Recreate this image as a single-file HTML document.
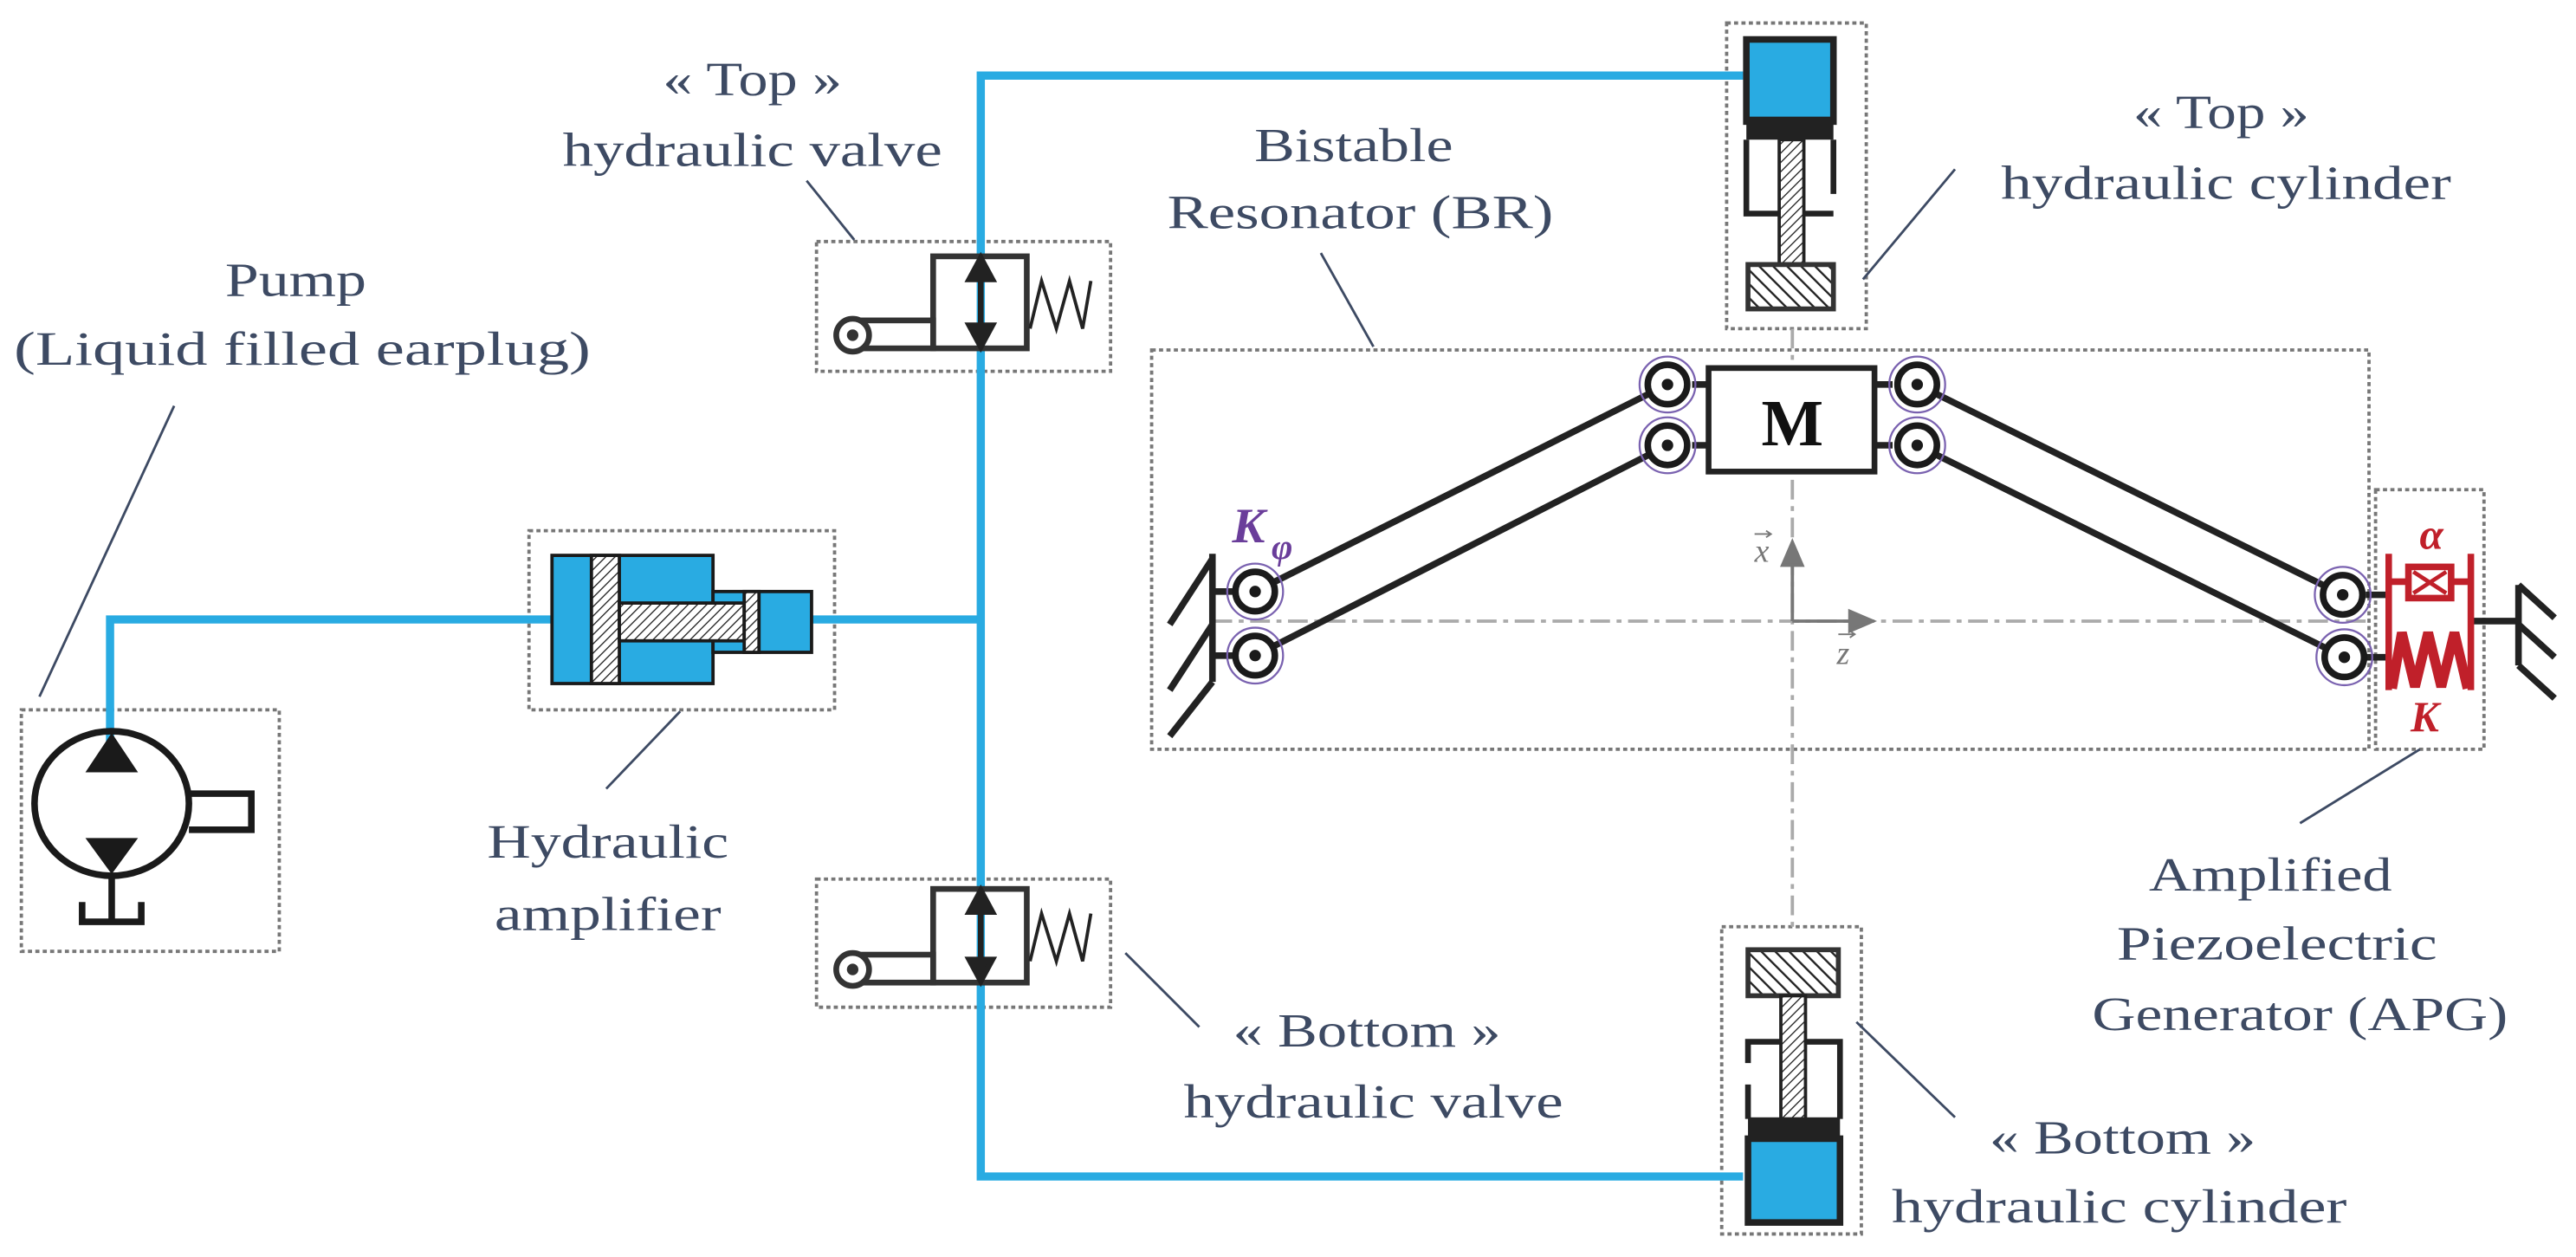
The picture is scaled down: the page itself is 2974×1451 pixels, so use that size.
<!DOCTYPE html>
<html><head><meta charset="utf-8"><style>
html,body{margin:0;padding:0;background:#fff;}
svg{display:block;}
text{font-family:"Liberation Serif",serif;fill:#3d4a63;}
</style></head><body>
<svg width="2974" height="1451" viewBox="0 0 1568 765" preserveAspectRatio="none" xmlns="http://www.w3.org/2000/svg">
<defs>
<pattern id="h" width="4" height="4" patternUnits="userSpaceOnUse" patternTransform="rotate(45)">
<rect width="4" height="4" fill="#fff"/><line x1="0" y1="0" x2="0" y2="4" stroke="#222" stroke-width="1.4"/>
</pattern>
<pattern id="h2" width="6" height="6" patternUnits="userSpaceOnUse" patternTransform="rotate(-45)">
<rect width="6" height="6" fill="#fff"/><line x1="0" y1="0" x2="0" y2="6" stroke="#222" stroke-width="2.5"/>
</pattern>
<g id="piv">
<circle r="17" fill="none" stroke="#7a62b0" stroke-width="1.2"/>
<circle r="12" fill="#fff" stroke="#1a1a1a" stroke-width="4"/>
<circle r="3.5" fill="#1a1a1a"/>
</g>
</defs>
<g fill="none" stroke="#777" stroke-width="2" stroke-dasharray="2.5 2">
<rect x="13" y="432" width="157" height="147"/>
<rect x="322" y="323" width="186" height="109"/>
<rect x="497" y="147" width="179" height="79"/>
<rect x="497" y="535" width="179" height="78"/>
<rect x="1051" y="14" width="85" height="186"/>
<rect x="1048" y="564" width="85" height="187"/>
<rect x="701" y="213" width="741" height="243"/>
<rect x="1446" y="298" width="66" height="158"/>
</g>
<g stroke="#aaa" stroke-width="2" stroke-dasharray="12 4 3 4" fill="none">
<line x1="738" y1="378" x2="1442" y2="378"/>
<line x1="1091" y1="200" x2="1091" y2="566"/>
</g>
<g stroke="#777" stroke-width="2" fill="#777">
<line x1="1091" y1="378" x2="1091" y2="342"/><polygon points="1085,344 1097,344 1091,330"/>
<line x1="1091" y1="378" x2="1128" y2="378"/><polygon points="1126,372 1126,384 1140,378"/>
</g>
<text x="1068" y="342" font-size="20" font-style="italic" style="fill:#777">x</text>
<path d="M1068,325 h10 m-3,-2 l3,2 l-3,2" stroke="#777" stroke-width="1" fill="none"/>
<text x="1118" y="404" font-size="20" font-style="italic" style="fill:#777">z</text>
<path d="M1119,386 h10 m-3,-2 l3,2 l-3,2" stroke="#777" stroke-width="1" fill="none"/>
<g stroke="#29abe2" stroke-width="5" fill="none">
<polyline points="67,470 67,377 336,377"/>
<line x1="494" y1="377" x2="597" y2="377"/>
<polyline points="1061,46 597,46 597,716 1061,716"/>
</g>
<g stroke="#1a1a1a" stroke-width="4" fill="none">
<ellipse cx="68" cy="489" rx="47" ry="44"/>
<polyline points="115,483 153,483 153,505 115,505"/>
<line x1="68" y1="532" x2="68" y2="561"/>
<polyline points="50,549 50,561 86,561 86,549"/>
</g>
<polygon points="68,446 52,470 84,470" fill="#1a1a1a"/>
<polygon points="52,510 84,510 68,532" fill="#1a1a1a"/>
<g stroke="#1a1a1a" stroke-width="2">
<rect x="336" y="338" width="98" height="78" fill="#29abe2"/>
<rect x="434" y="360" width="60" height="37" fill="#29abe2"/>
<rect x="360" y="338" width="17" height="78" fill="url(#h)"/>
<rect x="377" y="367" width="76" height="23" fill="url(#h)"/>
<rect x="453" y="360" width="9" height="37" fill="url(#h)"/>
</g>
<g stroke="#333" stroke-width="3.5" fill="none">
<rect x="568" y="156" width="57" height="56"/>
<rect x="519" y="195" width="49" height="17"/>
<circle cx="519" cy="204" r="10" fill="#fff"/>
<rect x="568" y="541" width="57" height="57"/>
<rect x="519" y="581" width="49" height="17"/>
<circle cx="519" cy="590" r="10" fill="#fff"/>
</g>
<circle cx="519" cy="204" r="3.5" fill="#333"/><circle cx="519" cy="590" r="3.5" fill="#333"/>
<g stroke="#222" stroke-width="2" fill="none">
<polyline points="627,200 634,171 643,200 651,171 659,200 664,171"/>
<polyline points="627,585 634,556 643,585 651,556 659,585 664,556"/>
</g>
<g stroke="#222" stroke-width="3.5" fill="#222">
<line x1="597" y1="166" x2="597" y2="202"/>
<polygon points="590,170 604,170 597,157"/><polygon points="590,198 604,198 597,211"/>
<line x1="597" y1="551" x2="597" y2="588"/>
<polygon points="590,555 604,555 597,542"/><polygon points="590,584 604,584 597,597"/>
</g>
<rect x="1063" y="24" width="53" height="50" fill="#29abe2" stroke="#222" stroke-width="4"/>
<rect x="1063" y="71" width="53" height="14" fill="#222"/>
<g stroke="#222" stroke-width="3.5" fill="none">
<polyline points="1063,85 1063,130 1084,130"/>
<polyline points="1116,85 1116,118"/><line x1="1098" y1="130" x2="1116" y2="130"/>
</g>
<rect x="1083" y="85" width="15" height="76" fill="url(#h)" stroke="#222" stroke-width="2"/>
<rect x="1064" y="161" width="52" height="27" fill="url(#h2)" stroke="#333" stroke-width="3"/>
<rect x="1064" y="578" width="55" height="28" fill="url(#h2)" stroke="#333" stroke-width="3"/>
<rect x="1084" y="606" width="15" height="75" fill="url(#h)" stroke="#222" stroke-width="2"/>
<g stroke="#222" stroke-width="3.5" fill="none">
<polyline points="1064,647 1064,634 1084,634"/>
<polyline points="1099,634 1120,634 1120,681"/>
<line x1="1064" y1="660" x2="1064" y2="681"/>
</g>
<rect x="1064" y="680" width="56" height="15" fill="#222"/>
<rect x="1064" y="693" width="56" height="51" fill="#29abe2" stroke="#222" stroke-width="4"/>
<g stroke="#222" stroke-width="4" fill="none">
<line x1="764" y1="360" x2="1015" y2="234"/>
<line x1="764" y1="399" x2="1015" y2="271"/>
<line x1="1167" y1="234" x2="1426" y2="362"/>
<line x1="1167" y1="271" x2="1427" y2="400"/>
<line x1="1030" y1="234" x2="1040" y2="234"/><line x1="1030" y1="271" x2="1040" y2="271"/>
<line x1="1140" y1="234" x2="1152" y2="234"/><line x1="1140" y1="271" x2="1152" y2="271"/>
<line x1="738" y1="337" x2="738" y2="415"/>
<line x1="738" y1="360" x2="752" y2="360"/><line x1="738" y1="399" x2="752" y2="399"/>
<line x1="738" y1="340" x2="712" y2="380"/><line x1="738" y1="380" x2="712" y2="420"/><line x1="738" y1="415" x2="712" y2="448"/>
<line x1="1440" y1="362" x2="1454" y2="362"/><line x1="1440" y1="400" x2="1454" y2="400"/>
<line x1="1504" y1="378" x2="1533" y2="378"/>
<line x1="1533" y1="356" x2="1533" y2="405"/>
<line x1="1533" y1="356" x2="1555" y2="376"/><line x1="1533" y1="380" x2="1555" y2="400"/><line x1="1533" y1="405" x2="1555" y2="425"/>
</g>
<rect x="1040" y="224" width="101" height="63" fill="#fff" stroke="#222" stroke-width="3.5"/>
<text x="1091" y="271" font-size="40" font-weight="bold" text-anchor="middle" style="fill:#111">M</text>
<use href="#piv" x="1015" y="234"/><use href="#piv" x="1015" y="271"/>
<use href="#piv" x="1167" y="234"/><use href="#piv" x="1167" y="271"/>
<use href="#piv" x="764" y="360"/><use href="#piv" x="764" y="399"/>
<use href="#piv" x="1426" y="362"/><use href="#piv" x="1427" y="400"/>
<text x="750" y="330" font-size="30" font-weight="bold" font-style="italic" style="fill:#6a3d9a">K</text>
<text x="774" y="340" font-size="22" font-weight="bold" font-style="italic" style="fill:#6a3d9a">φ</text>
<g stroke="#c0202a" stroke-width="4" fill="none">
<line x1="1454" y1="337" x2="1454" y2="420"/>
<line x1="1504" y1="337" x2="1504" y2="420"/>
<line x1="1454" y1="354" x2="1504" y2="354"/>
<rect x="1466" y="345" width="26" height="19" fill="#fff"/>
<line x1="1469" y1="348" x2="1489" y2="361" stroke-width="2.5"/><line x1="1489" y1="348" x2="1469" y2="361" stroke-width="2.5"/>
<polyline points="1456,419 1462,385 1470,418 1478,385 1486,418 1494,385 1502,419" stroke-width="6"/>
</g>
<text x="1480" y="334" font-size="26" font-weight="bold" font-style="italic" text-anchor="middle" style="fill:#c0202a">α</text>
<text x="1476" y="445" font-size="26" font-weight="bold" font-style="italic" text-anchor="middle" style="fill:#c0202a">K</text>
<g stroke="#3d4a63" stroke-width="1.5">
<line x1="106" y1="247" x2="24" y2="424"/>
<line x1="491" y1="110" x2="520" y2="146"/>
<line x1="414" y1="433" x2="369" y2="480"/>
<line x1="1190" y1="103" x2="1134" y2="170"/>
<line x1="804" y1="154" x2="836" y2="211"/>
<line x1="1473" y1="456" x2="1400" y2="501"/>
<line x1="685" y1="580" x2="730" y2="625"/>
<line x1="1130" y1="622" x2="1190" y2="680"/>
</g>
<g font-size="29" text-anchor="middle">
<text x="180" y="180" textLength="86" lengthAdjust="spacingAndGlyphs">Pump</text>
<text x="184" y="222" textLength="351" lengthAdjust="spacingAndGlyphs">(Liquid filled earplug)</text>
<text x="458" y="58" textLength="109" lengthAdjust="spacingAndGlyphs">« Top »</text>
<text x="458" y="101" textLength="231" lengthAdjust="spacingAndGlyphs">hydraulic valve</text>
<text x="370" y="522" textLength="147" lengthAdjust="spacingAndGlyphs">Hydraulic</text>
<text x="370" y="566" textLength="138" lengthAdjust="spacingAndGlyphs">amplifier</text>
<text x="1352" y="78" textLength="107" lengthAdjust="spacingAndGlyphs">« Top »</text>
<text x="1355" y="121" textLength="274" lengthAdjust="spacingAndGlyphs">hydraulic cylinder</text>
<text x="824" y="98" textLength="121" lengthAdjust="spacingAndGlyphs">Bistable</text>
<text x="828" y="139" textLength="235" lengthAdjust="spacingAndGlyphs">Resonator (BR)</text>
<text x="1382" y="542" textLength="148" lengthAdjust="spacingAndGlyphs">Amplified</text>
<text x="1386" y="584" textLength="195" lengthAdjust="spacingAndGlyphs">Piezoelectric</text>
<text x="1400" y="627" textLength="253" lengthAdjust="spacingAndGlyphs">Generator (APG)</text>
<text x="832" y="637" textLength="163" lengthAdjust="spacingAndGlyphs">« Bottom »</text>
<text x="836" y="680" textLength="231" lengthAdjust="spacingAndGlyphs">hydraulic valve</text>
<text x="1292" y="702" textLength="162" lengthAdjust="spacingAndGlyphs">« Bottom »</text>
<text x="1290" y="744" textLength="277" lengthAdjust="spacingAndGlyphs">hydraulic cylinder</text>
</g>
</svg>
</body></html>
